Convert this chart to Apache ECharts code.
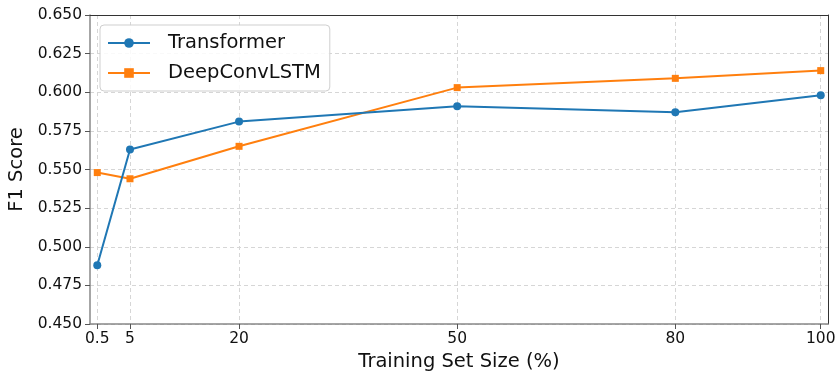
<!DOCTYPE html>
<html>
<head>
<meta charset="utf-8">
<script src="https://cdn.jsdelivr.net/npm/echarts@6/dist/echarts.min.js"></script>
<style>
  html, body { margin: 0; padding: 0; background: #fff; }
  #chart { width: 838px; height: 372px; }
</style>
</head>
<body>
<div id="chart"></div>
<script>
// Training set size (%) at which each model was evaluated
const trainSizes = [0.5, 5, 20, 50, 80, 100];
// F1 scores per model
const transformerF1 = [0.488, 0.563, 0.581, 0.591, 0.587, 0.598];
const deepConvLstmF1 = [0.548, 0.544, 0.565, 0.603, 0.609, 0.614];
// Axis ticks
const xTicks = [0.5, 5, 20, 50, 80, 100];
const yTicks = [0.45, 0.475, 0.5, 0.525, 0.55, 0.575, 0.6, 0.625, 0.65];

const FONT = 'DejaVu Sans';
const GRID_COLOR = '#d6d6d6';
const X_MIN = -0.5, X_MAX = 101;
const Y_MIN = yTicks[0], Y_MAX = yTicks[yTicks.length - 1];

const pairs = (ys) => trainSizes.map((x, i) => [x, ys[i]]);

// Plain dark frame line used for the top and right edges of the plot
const frameAxis = { show: true, onZero: false, lineStyle: { color: '#333', width: 1 } };

const chart = echarts.init(document.getElementById('chart'), null, { renderer: 'canvas' });

chart.setOption({
  animation: false,
  backgroundColor: '#fff',
  grid: { left: 90, right: 10, top: 15, bottom: 48, containLabel: false, outerBoundsMode: 'none' },
  legend: {
    orient: 'vertical',
    left: 100,
    top: 25,
    padding: [8, 9, 8, 7],
    itemGap: 10,
    itemWidth: 42,
    itemHeight: 12,
    borderColor: '#cfcfcf',
    borderWidth: 1,
    borderRadius: 4,
    backgroundColor: 'rgba(255,255,255,0.85)',
    textStyle: { fontFamily: FONT, fontSize: 19.5, color: '#111', padding: [0, 0, 0, 13] },
    data: ['Transformer', 'DeepConvLSTM']
  },
  xAxis: [
    {
      type: 'value',
      min: X_MIN,
      max: X_MAX,
      name: 'Training Set Size (%)',
      nameLocation: 'middle',
      nameGap: 19,
      nameTextStyle: { fontFamily: FONT, fontSize: 19.5, color: '#111' },
      axisLine: { show: true, onZero: false, lineStyle: { color: '#888', width: 1.5 } },
      axisTick: { show: true, length: 5, customValues: xTicks, lineStyle: { color: '#555' } },
      axisLabel: { customValues: xTicks, margin: 7, fontFamily: FONT, fontSize: 15.5, color: '#111',
        formatter: (v) => String(v) },
      splitLine: { show: true, lineStyle: { color: GRID_COLOR, type: [4, 3], width: 1 } }
    },
    {
      type: 'value',
      position: 'top',
      min: X_MIN,
      max: X_MAX,
      axisLine: frameAxis,
      axisTick: { show: false },
      axisLabel: { show: false },
      splitLine: { show: false }
    }
  ],
  yAxis: [
    {
      type: 'value',
      min: Y_MIN,
      max: Y_MAX,
      interval: 0.025,
      name: 'F1 Score',
      nameLocation: 'middle',
      nameGap: 59,
      nameTextStyle: { fontFamily: FONT, fontSize: 19.5, color: '#111' },
      axisLine: { show: true, onZero: false, lineStyle: { color: '#888', width: 1.5 } },
      axisTick: { show: true, length: 5, lineStyle: { color: '#555' } },
      axisLabel: { margin: 8, fontFamily: FONT, fontSize: 15.5, color: '#111',
        formatter: (v) => v.toFixed(3) },
      splitLine: { show: true, lineStyle: { color: GRID_COLOR, type: [4, 3], width: 1 } }
    },
    {
      type: 'value',
      position: 'right',
      min: Y_MIN,
      max: Y_MAX,
      interval: 0.025,
      axisLine: frameAxis,
      axisTick: { show: false },
      axisLabel: { show: false },
      splitLine: { show: false }
    }
  ],
  series: [
    {
      name: 'Transformer',
      type: 'line',
      data: pairs(transformerF1),
      color: '#1f77b4',
      symbol: 'circle',
      symbolSize: 8,
      lineStyle: { width: 2 },
      itemStyle: { color: '#1f77b4' },
      z: 3
    },
    {
      name: 'DeepConvLSTM',
      type: 'line',
      data: pairs(deepConvLstmF1),
      color: '#ff7f0e',
      symbol: 'rect',
      symbolSize: 7,
      lineStyle: { width: 2 },
      itemStyle: { color: '#ff7f0e' },
      z: 2
    }
  ]
});
</script>
</body>
</html>
